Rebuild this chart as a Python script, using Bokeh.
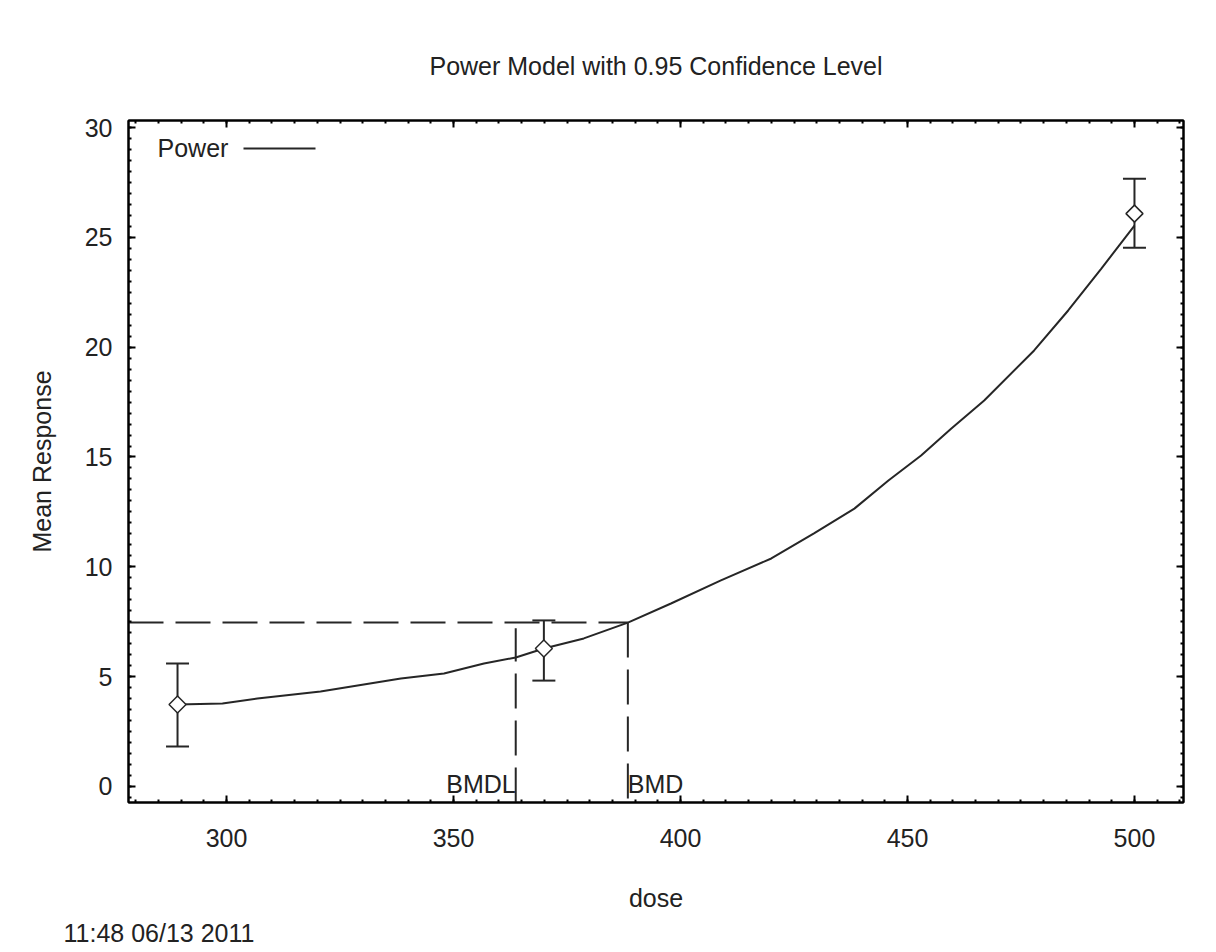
import numpy as np
from bokeh.plotting import figure
from bokeh.models import (ColumnDataSource, Whisker, TeeHead, Label, Arrow, Title,
                          LinearAxis, SingleIntervalTicker, Range1d, CustomJSTickFormatter)
from bokeh.embed import file_html
from bokeh.resources import INLINE

# ---- data ----
dose = [289.2, 369.9, 500.0]
mean_resp = [3.73, 6.28, 26.08]
lower_ci = [1.82, 4.82, 24.53]
upper_ci = [5.60, 7.56, 27.67]

curve_dose = [289.2, 299.1, 306.8, 320.7, 338.4, 347.9, 356.7, 363.7, 369.9,
              378.7, 388.4, 397.9, 408.9, 420.0, 429.4, 438.3, 445.8, 453.0,
              459.6, 466.9, 477.9, 485.4, 492.7, 500.0]
curve_resp = [3.73, 3.78, 4.00, 4.32, 4.92, 5.14, 5.60, 5.87, 6.28,
              6.74, 7.46, 8.33, 9.38, 10.38, 11.52, 12.65, 13.93, 15.07,
              16.29, 17.57, 19.85, 21.67, 23.58, 25.53]

bmd = 388.4
bmdl = 363.7
bmr_level = 7.46
bmdl_top = 7.2

x_ticks_interval = 50
y_ticks_interval = 5
title_text = "Power Model with 0.95 Confidence Level"
x_label = "dose"
y_label = "Mean Response"
legend_label = "Power"
stamp_text = "11:48 06/13 2011"

XMIN, XMAX = 278.4, 510.8
YMIN, YMAX = -0.73, 30.32

FONT = "Liberation Sans"
FS = "25px"
TXT = "#222222"
LINE = "#262626"

p = figure(width=1200, height=952, output_backend="svg", toolbar_location=None,
           x_range=Range1d(XMIN, XMAX), y_range=Range1d(YMIN, YMAX),
           min_border_left=128, min_border_right=17, min_border_top=120,
           min_border_bottom=150, x_axis_location=None, y_axis_location=None)
p.background_fill_color = "white"
p.border_fill_color = "white"
p.xgrid.visible = False
p.ygrid.visible = False
p.outline_line_color = "black"
p.outline_line_width = 2


def style_axis(ax, show_labels, standoff):
    ax.axis_line_color = "black"
    ax.axis_line_width = 2
    ax.major_tick_in = 7
    ax.major_tick_out = 0
    ax.minor_tick_in = 3
    ax.minor_tick_out = 0
    ax.major_tick_line_width = 2
    ax.minor_tick_line_width = 2
    ax.major_tick_line_color = "black"
    ax.minor_tick_line_color = "black"
    ax.major_label_standoff = standoff
    ax.major_label_text_font = FONT
    ax.major_label_text_color = TXT
    ax.major_label_text_font_size = FS
    ax.axis_label_text_font = FONT
    ax.axis_label_text_font_size = FS
    ax.axis_label_text_font_style = "normal"
    ax.axis_label_text_color = TXT
    if not show_labels:
        ax.formatter = CustomJSTickFormatter(code="return ''")


xb = LinearAxis(ticker=SingleIntervalTicker(interval=x_ticks_interval, num_minor_ticks=10))
style_axis(xb, True, 26)
xb.axis_label = x_label
xb.axis_label_standoff = 34
p.add_layout(xb, "below")

# top axis carries the chart title as its axis label
xt = LinearAxis(ticker=SingleIntervalTicker(interval=x_ticks_interval, num_minor_ticks=10))
style_axis(xt, False, 0)
xt.axis_label = title_text
xt.axis_label_standoff = 41
p.add_layout(xt, "above")

yl = LinearAxis(ticker=SingleIntervalTicker(interval=y_ticks_interval, num_minor_ticks=10))
style_axis(yl, True, 16)
yl.axis_label = y_label
yl.axis_label_standoff = 26
p.add_layout(yl, "left")

yr = LinearAxis(ticker=SingleIntervalTicker(interval=y_ticks_interval, num_minor_ticks=10))
style_axis(yr, False, 0)
p.add_layout(yr, "right")

stamp = Title(text=stamp_text, align="left", offset=-65, standoff=4,
              text_font=FONT, text_font_size=FS, text_font_style="normal",
              text_color=TXT)
p.add_layout(stamp, "below")

# dashed BMD lines
p.line([XMIN, bmd], [bmr_level, bmr_level], line_color=LINE, line_width=2, line_dash="35 12")
p.line([bmd, bmd], [bmr_level, YMIN], line_color=LINE, line_width=2, line_dash="35 12")
p.line([bmdl, bmdl], [YMIN, bmdl_top], line_color=LINE, line_width=2, line_dash="35 12")

# fitted curve
p.line(curve_dose, curve_resp, line_color=LINE, line_width=2)

# error bars
src = ColumnDataSource(dict(dose=dose, mean=mean_resp, lower=lower_ci, upper=upper_ci))
wh = Whisker(source=src, base="dose", lower="lower", upper="upper", dimension="height",
             line_color=LINE, line_width=2,
             upper_head=TeeHead(size=23, line_width=2, line_color=LINE),
             lower_head=TeeHead(size=23, line_width=2, line_color=LINE))
p.add_layout(wh)

p.scatter("dose", "mean", source=src, marker="square", angle=np.pi / 4, size=12,
          fill_color="white", line_color=LINE, line_width=1.5)

# BMD labels
p.add_layout(Label(x=bmdl, y=19, x_units="data", y_units="screen", text="BMDL",
                   text_align="right", text_baseline="alphabetic",
                   text_font=FONT, text_font_size=FS, text_color=TXT))
p.add_layout(Label(x=bmd, y=19, x_units="data", y_units="screen", text="BMD",
                   text_align="left", text_baseline="alphabetic",
                   text_font=FONT, text_font_size=FS, text_color=TXT))

# legend
p.add_layout(Label(x=29, y=655, x_units="screen", y_units="screen", text=legend_label,
                   text_align="left", text_baseline="alphabetic",
                   text_font=FONT, text_font_size=FS, text_color=TXT))
p.add_layout(Arrow(x_start=115, y_start=654, x_end=187, y_end=654,
                   start_units="screen", end_units="screen", start=None, end=None,
                   line_color=LINE, line_width=2))

open("out.html", "w").write(file_html(p, INLINE))
